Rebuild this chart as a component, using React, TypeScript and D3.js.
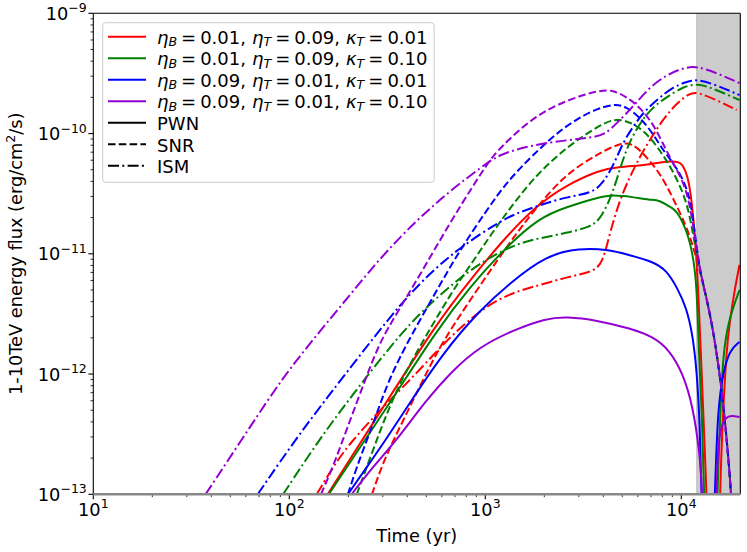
import React, { useRef, useEffect } from 'react'
import * as d3 from 'd3'

type Pt = [number, number]

const width = 747
const height = 552
const margin = { top: 13.3, right: 6.7, bottom: 57.7, left: 93.3 }

const xDomain: [number, number] = [10, 2e4]
const yDomain: [number, number] = [1e-13, 1e-9]
const xTickExps = [1, 2, 3, 4]
const yTickExps = [-13, -12, -11, -10, -9]
const shadeRange: [number, number] = [1.2e4, 2e4]

const etaB = ['0.01', '0.01', '0.09', '0.09']
const etaT = ['0.09', '0.09', '0.01', '0.01']
const kappaT = ['0.01', '0.10', '0.01', '0.10']
const colors = ['#ff0000', '#008000', '#0000ff', '#9400d3']
const components = ['PWN', 'SNR', 'ISM']

// [time (yr), 1-10 TeV flux (erg/cm2/s)]
const pwnA: Pt[] = [[157, 1e-13], [318, 6.1e-13], [566, 2.65e-12], [834, 6.0e-12], [1229, 1.3e-11], [1831, 2.54e-11], [2600, 3.74e-11], [3835, 4.98e-11], [4685, 5.27e-11], [6655, 5.47e-11], [7485, 5.69e-11], [8720, 5.91e-11], [9810, 5.8e-11], [10160, 5.47e-11], [10770, 4.52e-11], [11300, 2.8e-11], [11700, 1.49e-11], [11980, 8.5e-12], [12260, 4.12e-12], [12560, 1.58e-12], [13000, 4.15e-13], [13460, 1e-13], [14900, 1e-15], [15700, 1e-13], [16250, 4.15e-13], [17000, 1.58e-12], [17630, 2.65e-12], [18700, 4.99e-12], [19800, 8.06e-12]]
const pwnB: Pt[] = [[159, 1e-13], [334, 6.1e-13], [566, 2.32e-12], [834, 5.28e-12], [1229, 1.07e-11], [1896, 2.02e-11], [2600, 2.45e-11], [3835, 2.97e-11], [4470, 3.09e-11], [5650, 2.97e-11], [6900, 2.8e-11], [7760, 2.8e-11], [8720, 2.45e-11], [9465, 2.31e-11], [10640, 1.58e-11], [11430, 1.01e-11], [11980, 5.71e-12], [12280, 1.58e-12], [12780, 4.15e-13], [13100, 1e-13], [14100, 1e-15], [15230, 1e-13], [15700, 3.43e-13], [16320, 1.58e-12], [17630, 2.98e-12], [19800, 4.99e-12]]
const pwnC: Pt[] = [[199, 1e-13], [249, 1.69e-13], [315, 2.94e-13], [412, 5.75e-13], [607, 1.49e-12], [938, 3.4e-12], [1334, 5.71e-12], [2052, 9.77e-12], [3035, 1.11e-11], [4150, 1.09e-11], [5455, 9.77e-12], [7180, 8.6e-12], [8395, 7.33e-12], [9550, 5.19e-12], [10640, 3.54e-12], [11430, 2.11e-12], [11980, 1.08e-12], [12410, 4.15e-13], [12700, 1e-13], [13700, 1e-15], [14790, 1e-13], [15380, 5.32e-13], [16320, 1.02e-12], [17630, 1.58e-12], [19800, 1.85e-12]]
const pwnD: Pt[] = [[208, 1e-13], [267, 1.69e-13], [354, 2.83e-13], [491, 5.86e-13], [683, 1.08e-12], [938, 1.69e-12], [1387, 2.32e-12], [2052, 2.91e-12], [2594, 3.0e-12], [3690, 2.81e-12], [5455, 2.4e-12], [7180, 2.05e-12], [8720, 1.58e-12], [10200, 1.01e-12], [11480, 5.35e-13], [12410, 2.19e-13], [12900, 1e-13], [13900, 1e-15], [15100, 1e-13], [15380, 2.83e-13], [16320, 4.15e-13], [17630, 4.56e-13], [19800, 4.39e-13]]

const snrA: Pt[] = [[264, 1e-13], [300, 1.82e-13], [354, 3.23e-13], [412, 5.32e-13], [480, 8.9e-13], [586, 1.68e-12], [716, 2.81e-12], [906, 4.99e-12], [1145, 8.71e-12], [1448, 1.49e-11], [1831, 2.45e-11], [2600, 4.7e-11], [3835, 6.89e-11], [4855, 8.34e-11], [5650, 8.34e-11], [6655, 6.38e-11], [7760, 4.7e-11], [9035, 2.97e-11], [10640, 1.67e-11], [11430, 1.18e-11], [12410, 7.33e-12], [13430, 4.36e-12], [14520, 2.32e-12], [15380, 1.26e-12], [16320, 6.1e-13], [17300, 2.19e-13], [18000, 1e-13], [18900, 2e-14]]
const snrB: Pt[] = [[221, 1e-13], [267, 2.33e-13], [315, 4.74e-13], [367, 8.4e-13], [442, 1.49e-12], [683, 4.99e-12], [834, 7.91e-12], [994, 1.21e-11], [1186, 1.84e-11], [1745, 4.27e-11], [2600, 7.73e-11], [3835, 1.18e-10], [4685, 1.35e-10], [5650, 1.22e-10], [6655, 1.01e-10], [7760, 7.3e-11], [9035, 4.98e-11], [10640, 2.8e-11], [11430, 1.52e-11], [12410, 7.33e-12], [13430, 4.36e-12], [14520, 2.32e-12], [15380, 1.26e-12], [16320, 6.1e-13], [17300, 2.19e-13], [18000, 1e-13], [18900, 2e-14]]
const snrC: Pt[] = [[199, 1e-13], [221, 1.69e-13], [249, 2.83e-13], [280, 4.74e-13], [315, 8.11e-13], [380, 1.58e-12], [566, 4.99e-12], [741, 1.07e-11], [1018, 2.31e-11], [1288, 3.96e-11], [1745, 6.63e-11], [2600, 1.2e-10], [3835, 1.66e-10], [4685, 1.76e-10], [5265, 1.66e-10], [6135, 1.37e-10], [7145, 1.01e-10], [8035, 7.3e-11], [9465, 5.27e-11], [11040, 3.21e-11], [11700, 1.52e-11], [12410, 7.33e-12], [13430, 4.36e-12], [14520, 2.32e-12], [15380, 1.26e-12], [16320, 6.1e-13], [17300, 2.19e-13], [18000, 1e-13], [18900, 2e-14]]
const snrD: Pt[] = [[145, 1e-13], [167, 1.69e-13], [187.5, 2.83e-13], [211, 4.74e-13], [249, 9.8e-13], [290, 1.85e-12], [354, 3.21e-12], [480, 7.33e-12], [659, 1.8e-11], [864, 3.66e-11], [1054, 6.02e-11], [1186, 7.57e-11], [1745, 1.37e-10], [2600, 1.9e-10], [3835, 2.3e-10], [4470, 2.3e-10], [5265, 2.01e-10], [6135, 1.66e-10], [7145, 1.22e-10], [8035, 8.34e-11], [9035, 5.69e-11], [10640, 3.6e-11], [11570, 1.64e-11], [12410, 7.33e-12], [13430, 4.36e-12], [14520, 2.32e-12], [15380, 1.26e-12], [16320, 6.1e-13], [17300, 2.19e-13], [18000, 1e-13], [18900, 2e-14]]

const ismA: Pt[] = [[138, 1e-13], [167, 1.69e-13], [204, 2.67e-13], [290, 5.02e-13], [448, 1.02e-12], [636, 1.92e-12], [938, 3.4e-12], [1334, 4.71e-12], [1896, 5.49e-12], [2600, 6.4e-12], [3530, 7.05e-12], [3975, 8.37e-12], [4315, 1.49e-11], [4855, 2.8e-11], [5455, 4.35e-11], [6135, 6.38e-11], [6900, 8.83e-11], [8035, 1.3e-10], [9465, 1.79e-10], [11040, 2.17e-10], [12120, 2.21e-10], [15150, 1.9e-10], [19150, 1.57e-10]]
const ismB: Pt[] = [[93, 1e-13], [138, 2.67e-13], [204, 6.32e-13], [380, 2.32e-12], [566, 4.36e-12], [834, 7.33e-12], [1145, 1.01e-11], [1500, 1.23e-11], [1896, 1.35e-11], [2600, 1.49e-11], [3406, 1.67e-11], [3835, 1.91e-11], [4315, 2.8e-11], [4685, 4.11e-11], [5265, 7.73e-11], [6135, 1.22e-10], [7145, 1.66e-10], [8420, 2.01e-10], [10160, 2.44e-10], [12120, 2.63e-10], [15150, 2.3e-10], [19800, 1.9e-10]]
const ismC: Pt[] = [[69, 1e-13], [113, 3.23e-13], [204, 1.12e-12], [380, 4.12e-12], [566, 7.76e-12], [741, 1.12e-11], [1145, 1.8e-11], [1448, 2.18e-11], [1896, 2.54e-11], [2600, 2.97e-11], [3530, 3.21e-11], [3975, 3.88e-11], [4470, 5.27e-11], [5025, 8.34e-11], [5650, 1.13e-10], [6355, 1.48e-10], [7485, 1.9e-10], [9035, 2.44e-10], [10640, 2.69e-10], [11980, 2.84e-10], [15150, 2.53e-10], [19800, 2.09e-10]]
const ismD: Pt[] = [[37.4, 1e-13], [63, 3.62e-13], [93, 9.45e-13], [138, 2.11e-12], [204, 4.55e-12], [300, 9.77e-12], [448, 1.91e-11], [659, 3.33e-11], [971, 5.37e-11], [1186, 6.76e-11], [1745, 8.03e-11], [2600, 8.83e-11], [3700, 9.35e-11], [4160, 1.01e-10], [4685, 1.22e-10], [5650, 1.66e-10], [6900, 2.44e-10], [8420, 3.07e-10], [10160, 3.51e-10], [12000, 3.65e-10], [15150, 3.19e-10], [19800, 2.63e-10]]

const pwnSeries = [pwnA, pwnB, pwnC, pwnD]
const snrSeries = [snrA, snrB, snrC, snrD]
const ismSeries = [ismA, ismB, ismC, ismD]

const dashes: Record<string, string | null> = {
  PWN: null,
  SNR: '7.5,3.3',
  ISM: '11,3.3,2,3.3'
}

const font = 'DejaVu Sans, sans-serif'
const fs = 17.8
const fsSmall = 12.5
const fsLegend = 18
const fsSub = 12.6

export default function App() {
  const svgRef = useRef<SVGSVGElement>(null)

  useEffect(() => {
    if (!svgRef.current) return
    const svg = d3.select(svgRef.current)
    svg.selectAll('*').remove()

    const x = d3.scaleLog().domain(xDomain).range([margin.left, width - margin.right])
    const y = d3.scaleLog().domain(yDomain).range([height - margin.bottom, margin.top])
    const [x0, x1] = x.range()
    const [y0, y1] = y.range()

    svg.append('defs').append('clipPath').attr('id', 'plot-clip')
      .append('rect')
      .attr('x', x0).attr('y', y1)
      .attr('width', x1 - x0).attr('height', y0 - y1)

    // shaded late-time band
    svg.append('rect')
      .attr('x', x(shadeRange[0]))
      .attr('y', y1)
      .attr('width', x(shadeRange[1]) - x(shadeRange[0]))
      .attr('height', y0 - y1)
      .attr('fill', '#cccccc')
    svg.append('line')
      .attr('x1', x(shadeRange[0])).attr('x2', x(shadeRange[0]))
      .attr('y1', y1).attr('y2', y0)
      .attr('stroke', '#b8b8b8').attr('stroke-width', 1)

    const line = d3.line<Pt>()
      .x(d => x(d[0]))
      .y(d => y(d[1]))
      .curve(d3.curveBasis)

    const curves = svg.append('g').attr('clip-path', 'url(#plot-clip)')
    colors.forEach((c, i) => {
      const sets: [string, Pt[]][] = [['PWN', pwnSeries[i]], ['SNR', snrSeries[i]], ['ISM', ismSeries[i]]]
      sets.forEach(([comp, data]) => {
        const p = curves.append('path')
          .datum(data)
          .attr('fill', 'none')
          .attr('stroke', c)
          .attr('stroke-width', 2)
          .attr('stroke-linejoin', 'round')
          .attr('d', line)
        if (dashes[comp]) p.attr('stroke-dasharray', dashes[comp] as string)
      })
    })

    // minor ticks
    const xMinor: number[] = []
    for (let k = 1; k <= 4; k++) for (let m = 2; m <= 9; m++) {
      const v = m * Math.pow(10, k)
      if (v < xDomain[1]) xMinor.push(v)
    }
    const yMinor: number[] = []
    for (let k = -13; k <= -10; k++) for (let m = 2; m <= 9; m++) yMinor.push(m * Math.pow(10, k))

    const axes = svg.append('g').attr('stroke', '#000')
    xMinor.forEach(v => {
      axes.append('line').attr('x1', x(v)).attr('x2', x(v)).attr('y1', y0).attr('y2', y0 + 2.8).attr('stroke-width', 0.8)
    })
    xTickExps.forEach(e => {
      const v = Math.pow(10, e)
      axes.append('line').attr('x1', x(v)).attr('x2', x(v)).attr('y1', y0).attr('y2', y0 + 4.9).attr('stroke-width', 1.1)
    })
    yMinor.forEach(v => {
      axes.append('line').attr('x1', x0 - 2.8).attr('x2', x0).attr('y1', y(v)).attr('y2', y(v)).attr('stroke-width', 0.8)
    })
    yTickExps.forEach(e => {
      const v = Math.pow(10, e)
      axes.append('line').attr('x1', x0 - 4.9).attr('x2', x0).attr('y1', y(v)).attr('y2', y(v)).attr('stroke-width', 1.1)
    })

    // spines
    svg.append('line').attr('x1', x0).attr('x2', x0).attr('y1', y1).attr('y2', y0).attr('stroke', '#000').attr('stroke-width', 1.1)
    svg.append('line').attr('x1', x1).attr('x2', x1).attr('y1', y1).attr('y2', y0).attr('stroke', '#000').attr('stroke-width', 1.1)
    svg.append('line').attr('x1', x0).attr('x2', x1).attr('y1', y1).attr('y2', y1).attr('stroke', '#000').attr('stroke-width', 1.1)
    svg.append('line').attr('x1', x0).attr('x2', x1).attr('y1', y0).attr('y2', y0).attr('stroke', '#888888').attr('stroke-width', 2.5)

    // tick labels
    xTickExps.forEach(e => {
      const t = svg.append('text')
        .attr('x', x(Math.pow(10, e)))
        .attr('y', y0 + 21.5)
        .attr('text-anchor', 'middle')
        .attr('font-family', font)
        .attr('font-size', fs)
      t.append('tspan').text('10')
      t.append('tspan').attr('dy', -7.5).attr('font-size', fsSmall).text(String(e))
    })
    yTickExps.forEach(e => {
      const t = svg.append('text')
        .attr('x', x0 - 6.5)
        .attr('y', y(Math.pow(10, e)) + 6.5)
        .attr('text-anchor', 'end')
        .attr('font-family', font)
        .attr('font-size', fs)
      t.append('tspan').text('10')
      t.append('tspan').attr('dy', -7.5).attr('font-size', fsSmall).text('\u2212' + Math.abs(e))
    })

    // axis labels
    svg.append('text')
      .attr('x', (x0 + x1) / 2)
      .attr('y', 542)
      .attr('text-anchor', 'middle')
      .attr('font-family', font)
      .attr('font-size', fs)
      .text('Time (yr)')
    const yl = svg.append('text')
      .attr('transform', `translate(22,${(y0 + y1) / 2}) rotate(-90)`)
      .attr('text-anchor', 'middle')
      .attr('font-family', font)
      .attr('font-size', fs)
    yl.append('tspan').text('1-10TeV energy flux (erg/cm')
    yl.append('tspan').attr('dy', -7).attr('font-size', fsSmall).text('2')
    yl.append('tspan').attr('dy', 7).text('/s)')

    // legend
    const lg = svg.append('g')
    lg.append('rect')
      .attr('x', 102.7).attr('y', 22.7)
      .attr('width', 331.5).attr('height', 159.6)
      .attr('rx', 3)
      .attr('fill', '#fff').attr('fill-opacity', 0.8)
      .attr('stroke', '#cccccc').attr('stroke-width', 1)
    const rowY = (i: number) => 36.8 + i * 21.5
    const hx0 = 108
    const hx1 = 146
    const tx = 157
    const segX = [157, 252, 346]

    colors.forEach((c, i) => {
      lg.append('line')
        .attr('x1', hx0).attr('x2', hx1)
        .attr('y1', rowY(i)).attr('y2', rowY(i))
        .attr('stroke', c).attr('stroke-width', 2)
      const parts: [string, string, string, string][] = [
        ['\u03b7', 'B', etaB[i], ','],
        ['\u03b7', 'T', etaT[i], ','],
        ['\u03ba', 'T', kappaT[i], '']
      ]
      parts.forEach(([g, sub, val, tail], k) => {
        const t = lg.append('text')
          .attr('x', segX[k]).attr('y', rowY(i) + 6.8)
          .attr('font-family', font)
          .attr('font-size', fsLegend)
        t.append('tspan').attr('font-style', 'italic').text(g)
        t.append('tspan').attr('font-style', 'italic').attr('font-size', fsSub).attr('dy', 2.5).text(sub)
        t.append('tspan').attr('dy', -2.5).attr('dx', 4).text('=')
        t.append('tspan').attr('dx', 4).text(val + tail)
      })
    })
    components.forEach((comp, j) => {
      const i = j + 4
      const l = lg.append('line')
        .attr('x1', hx0).attr('x2', hx1)
        .attr('y1', rowY(i)).attr('y2', rowY(i))
        .attr('stroke', '#000').attr('stroke-width', 2)
      if (dashes[comp]) l.attr('stroke-dasharray', dashes[comp] as string)
      lg.append('text')
        .attr('x', tx).attr('y', rowY(i) + 7.5)
        .attr('font-family', font)
        .attr('font-size', fsLegend)
        .text(comp)
    })
  }, [])

  return (
    <svg
      ref={svgRef}
      width={width}
      height={height}
      style={{ position: 'absolute', left: 0, top: 0, background: '#fff' }}
    />
  )
}
